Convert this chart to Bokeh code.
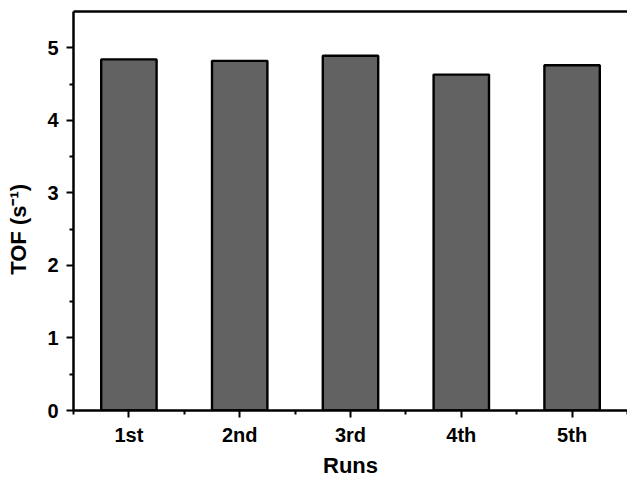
from bokeh.plotting import figure
from bokeh.models import FixedTicker, LinearAxis, Range1d
from bokeh.embed import file_html
from bokeh.resources import INLINE

runs = ["1st", "2nd", "3rd", "4th", "5th"]
positions = [1, 2, 3, 4, 5]
tof = [4.84, 4.82, 4.89, 4.63, 4.76]
y_ticks = [0, 1, 2, 3, 4, 5]
y_minor = [0.5, 1.5, 2.5, 3.5, 4.5]
x_minor = [0.5, 1.5, 2.5, 3.5, 4.5, 5.5]

FONT = "Liberation Sans"

p = figure(width=627, height=480, output_backend="svg", toolbar_location=None,
           x_range=Range1d(0.5, 5.5), y_range=Range1d(0, 5.5),
           min_border_left=73, min_border_right=0, min_border_top=11, min_border_bottom=69)
p.outline_line_color = None
p.grid.visible = False
p.background_fill_color = "white"
p.border_fill_color = "white"

p.vbar(x=positions, top=tof, width=0.5, fill_color="#626262",
       line_color="black", line_width=2.4)

for ax in (p.xaxis[0], p.yaxis[0]):
    ax.axis_line_width = 2.5
    ax.major_tick_line_width = 2
    ax.minor_tick_line_width = 2
    ax.major_tick_out = 7
    ax.major_tick_in = 0
    ax.minor_tick_out = 4
    ax.minor_tick_in = 0
    ax.major_label_text_font = FONT
    ax.major_label_text_font_style = "bold"
    ax.major_label_text_font_size = "20px"
    ax.major_label_text_color = "black"
    ax.axis_label_text_font = FONT
    ax.axis_label_text_font_style = "bold"
    ax.axis_label_text_font_size = "22px"
    ax.axis_label_text_color = "black"

p.xaxis.ticker = FixedTicker(ticks=positions, minor_ticks=x_minor)
p.xaxis.major_label_overrides = {pos: lab for pos, lab in zip(positions, runs)}
p.xaxis.axis_label = "Runs"
p.xaxis.axis_label_standoff = 4
p.xaxis.major_label_standoff = 6

p.yaxis.ticker = FixedTicker(ticks=y_ticks, minor_ticks=y_minor)
p.yaxis.axis_label = "TOF (s\u207b\u00b9)" + "\u00a0" * 6
p.yaxis.axis_label_standoff = 13
p.yaxis.major_label_standoff = 8

top_axis = LinearAxis(ticker=FixedTicker(ticks=[]), axis_line_width=2.5,
                      major_tick_line_color=None, minor_tick_line_color=None,
                      major_label_text_font_size="0px", major_label_standoff=0,
                      axis_label=None)
p.add_layout(top_axis, "above")

open("out.html", "w").write(file_html(p, INLINE))
